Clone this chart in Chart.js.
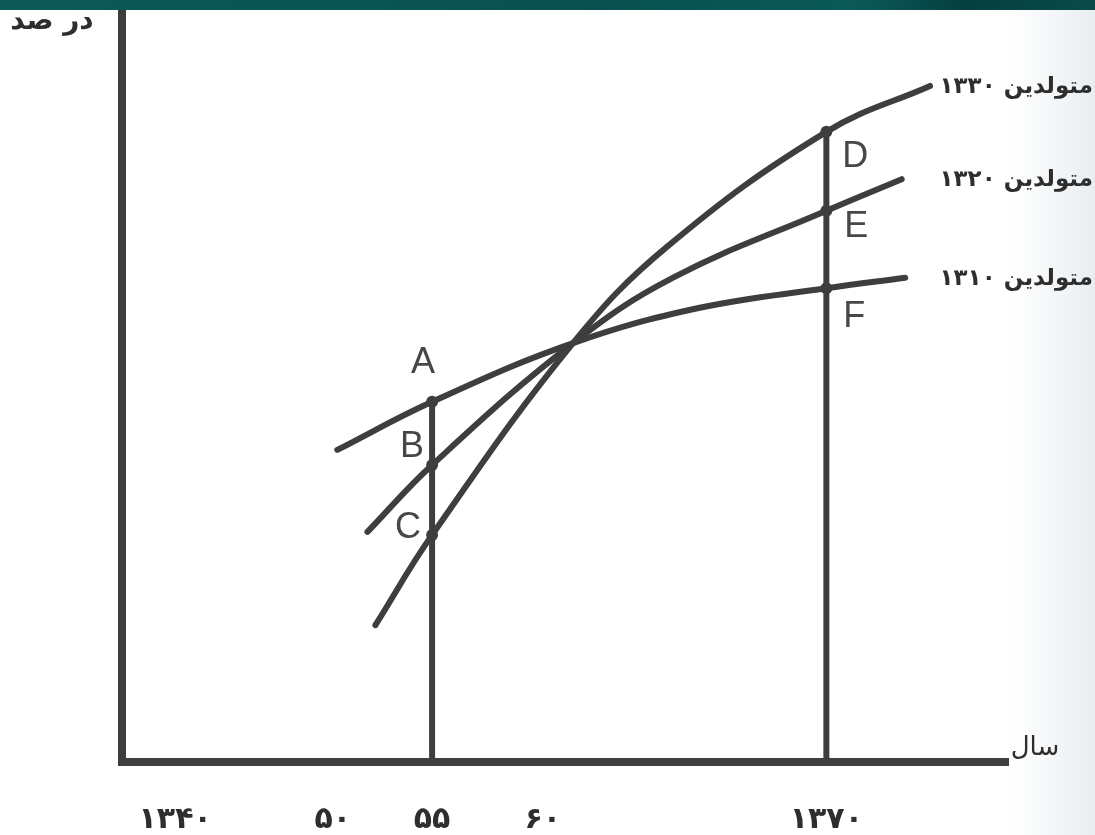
<!DOCTYPE html>
<html lang="fa">
<head>
<meta charset="utf-8">
<script src="https://cdn.jsdelivr.net/npm/chart.js@4/dist/chart.umd.min.js"></script>
<style>
  html, body { margin: 0; padding: 0; }
  body {
    width: 1095px; height: 835px; overflow: hidden; position: relative;
    background: linear-gradient(90deg, #ffffff 0%, #ffffff 92%, #f2f5f7 97%, #e8edf1 100%);
  }
  #banner {
    position: absolute; left: 0; top: 0; width: 1095px; height: 10px;
    background: linear-gradient(100deg, #0e5a56 0%, #07504f 55%, #0b5a58 78%, #053f40 88%, #0a4b4a 100%);
  }
  #wrap { position: absolute; left: 0; top: 0; width: 1095px; height: 835px; }
  canvas { display: block; }
</style>
</head>
<body>
<div id="wrap"><canvas id="cohortChart" width="1095" height="835"></canvas></div>
<div id="banner"></div>
<script>
// position along the year axis (the original axis is schematic, not to scale)
const tickPos = [6.0, 23.8, 35.0, 47.5, 79.5];
const tickLabels = ['۱۳۴۰', '۵۰', '۵۵', '۶۰', '۱۳۷۰'];

// three birth cohorts (x = position on year axis, y = percent)
const x1310 = [24.3, 35.0, 50.9, 65.2, 79.5, 88.4];
const y1310 = [41.5, 47.9, 55.7, 60.4, 63.0, 64.4];
const x1320 = [27.7, 35.0, 50.9, 62.2, 79.5, 88.0];
const y1320 = [30.6, 39.5, 55.7, 64.4, 73.3, 77.5];
const x1330 = [28.6, 35.0, 50.9, 61.5, 79.5, 91.2];
const y1330 = [18.2, 30.2, 55.7, 68.5, 83.8, 89.9];
const cohortNames = ['متولدین ۱۳۳۰', 'متولدین ۱۳۲۰', 'متولدین ۱۳۱۰'];

// marked points on the two vertical lines
const pointLetters = ['A', 'B', 'C', 'D', 'E', 'F'];
const pointX = [35.0, 35.0, 35.0, 79.5, 79.5, 79.5];
const pointY = [47.9, 39.5, 30.2, 83.8, 73.3, 63.0];

const ink = '#3e3e3e';

function toXY(xs, ys) {
    return xs.map((x, i) => ({ x: x, y: ys[i] }));
}

function curve(xs, ys) {
    return {
        type: 'line',
        data: toXY(xs, ys),
        borderColor: ink,
        borderWidth: 6,
        borderCapStyle: 'round',
        pointRadius: 0,
        tension: 0.4,
        fill: false
    };
}

function vline(x, top) {
    return {
        type: 'line',
        data: [{ x: x, y: 0 }, { x: x, y: top }],
        borderColor: ink,
        borderWidth: 6,
        pointRadius: 0,
        fill: false
    };
}

// letters next to the points, cohort names, axis names
const textPlugin = {
    id: 'textPlugin',
    afterDatasetsDraw(chart) {
        const ctx = chart.ctx;
        const xs = chart.scales.x, ys = chart.scales.y;
        const offs = [[-9, -39], [-20, -18], [-24, -7], [29, 25], [30, 16], [28, 29]];
        ctx.save();
        ctx.fillStyle = '#474747';
        ctx.font = '36px "Liberation Sans", Arial, sans-serif';
        ctx.textAlign = 'center';
        ctx.textBaseline = 'middle';
        pointLetters.forEach((l, i) => {
            ctx.fillText(l, xs.getPixelForValue(pointX[i]) + offs[i][0], ys.getPixelForValue(pointY[i]) + offs[i][1]);
        });

        // cohort labels at the line ends
        const ends = [y1330[y1330.length - 1], y1320[y1320.length - 1], y1310[y1310.length - 1]];
        ctx.fillStyle = '#2e2e2e';
        ctx.font = 'bold 23px "DejaVu Sans", sans-serif';
        ctx.direction = 'rtl';
        ctx.textAlign = 'right';
        cohortNames.forEach((n, i) => {
            ctx.fillText(n, chart.width - 2, ys.getPixelForValue(ends[i]) + 1);
        });

        ctx.font = '26px "DejaVu Sans", sans-serif';
        ctx.textAlign = 'center';
        ctx.fillText('سال', 1035, 748);
        ctx.font = 'bold 28px "DejaVu Sans", sans-serif';
        ctx.fillText('در صد', 52, 22);
        ctx.restore();
    }
};

const ctx = document.getElementById('cohortChart').getContext('2d');
new Chart(ctx, {
    data: {
        datasets: [
            curve(x1330, y1330),
            curve(x1320, y1320),
            curve(x1310, y1310),
            vline(tickPos[2], pointY[0]),
            vline(tickPos[4], pointY[3]),
            {
                type: 'scatter',
                data: toXY(pointX, pointY),
                pointRadius: 6,
                pointBackgroundColor: ink,
                pointBorderWidth: 0
            }
        ]
    },
    options: {
        responsive: false,
        animation: false,
        devicePixelRatio: 1,
        layout: { padding: { left: 122, right: 87, top: 10, bottom: 0 } },
        plugins: { legend: { display: false }, tooltip: { enabled: false } },
        scales: {
            x: {
                type: 'linear',
                min: 0,
                max: 100,
                grid: { display: false, drawTicks: false },
                border: { display: true, color: ink, width: 8 },
                afterBuildTicks: (scale) => { scale.ticks = tickPos.map(v => ({ value: v })); },
                afterFit: (scale) => { scale.height = 73; },
                ticks: {
                    autoSkip: false,
                    maxRotation: 0,
                    padding: 40,
                    color: '#2e2e2e',
                    font: { family: '"DejaVu Sans", sans-serif', size: 30, weight: 'bold' },
                    callback: (v) => tickLabels[tickPos.indexOf(v)]
                }
            },
            y: {
                type: 'linear',
                min: 0,
                max: 100,
                grid: { display: false, drawTicks: false },
                border: { display: true, color: ink, width: 8 },
                ticks: { display: false }
            }
        }
    },
    plugins: [textPlugin]
});
</script>
</body>
</html>
